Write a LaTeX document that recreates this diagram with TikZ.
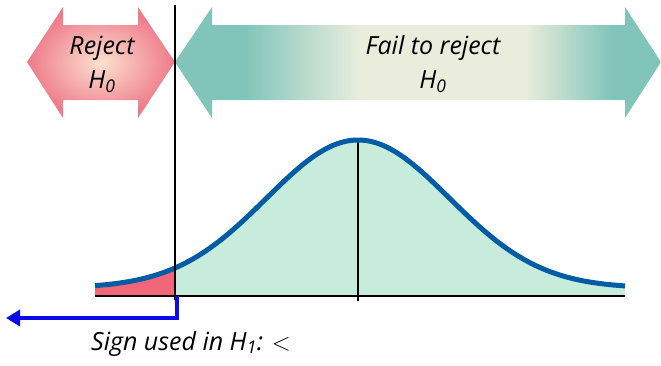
\documentclass[tikz,border=0pt]{standalone}
\usepackage{fontspec}
\setmainfont{Open Sans}
\usetikzlibrary{arrows.meta}

\definecolor{rejectOuter}{RGB}{238,122,138}
\definecolor{rejectInner}{RGB}{252,224,206}
\definecolor{keepOuter}{RGB}{128,196,186}
\definecolor{keepInner}{RGB}{234,237,220}
\definecolor{bodyGreen}{RGB}{200,236,220}
\definecolor{tailRed}{RGB}{242,102,122}
\definecolor{curveBlue}{RGB}{0,92,165}
\definecolor{signBlue}{RGB}{10,10,235}

\pgfdeclarehorizontalshading{keepshade}{100bp}{color(0bp)=(keepOuter);
    color(25bp)=(keepOuter); color(32bp)=(keepOuter); color(44bp)=(keepInner);
    color(61bp)=(keepInner); color(70bp)=(keepOuter); color(100bp)=(keepOuter)}

\newcommand{\hsub}[1]{\textit{H}\textsubscript{\textit{#1}}}

\begin{document}
\begin{tikzpicture}[
    x=1pt, y=-1pt,
    label/.style={font=\fontsize{25}{34}\selectfont\itshape, align=center, inner sep=0pt},
    rejectzone/.style={inner color=rejectInner, outer color=rejectOuter},
    keepzone/.style={shading=keepshade},
    bell/.style={curveBlue, line width=5pt},
    axis/.style={black, line width=1.6pt},
    marker/.style={black, line width=1.2pt},
    signarrow/.style={signBlue, line width=3.5pt, -{Triangle[length=14pt,width=16pt]}}
]
\useasboundingbox (0,0) rectangle (661,365);

% Areas under the bell curve
\fill[tailRed] (95,296) -- plot[domain=-2.63:-1.83, samples=30]
    ({358+100*\x},{288-148*exp(-\x*\x/1.6744)}) -- (175,296) -- cycle;
\fill[bodyGreen] (175,296) -- plot[domain=-1.83:2.67, samples=120]
    ({358+100*\x},{288-148*exp(-\x*\x/1.6744)}) -- (625,296) -- cycle;

% Axis and mean line
\draw[axis] (95,296) -- (625,296);
\draw[marker] (358,140) -- (358,301);

% Bell curve
\draw[bell] plot[domain=-2.63:2.67, samples=150]
    ({358+100*\x},{288-148*exp(-\x*\x/1.6744)});

% Region arrows
\shade[rejectzone] (27,62) -- (63,7) -- (63,25) -- (138,25) -- (138,7) -- (175,62)
    -- (138,118) -- (138,100) -- (63,100) -- (63,118) -- cycle;
\shade[keepzone] (175,62) -- (212,7) -- (212,25) -- (625,25) -- (625,7) -- (661,62)
    -- (625,118) -- (625,100) -- (212,100) -- (212,118) -- cycle;

% Critical value line
\draw[marker] (175,5) -- (175,300);

% Labels
\node[label] (reject) at (102,64) {Reject\\\hsub{0}};
\node[label] (keep) at (433,64) {Fail to reject\\\hsub{0}};
\node[label, anchor=base west] (sign) at (91,350) {Sign used in \hsub{1}: $<$};

% Direction of the alternative
\coordinate (critBase) at (177,296);
\coordinate (leftEnd) at (6,318);
\draw[signarrow] (critBase) |- (leftEnd);

\end{tikzpicture}
\end{document}
